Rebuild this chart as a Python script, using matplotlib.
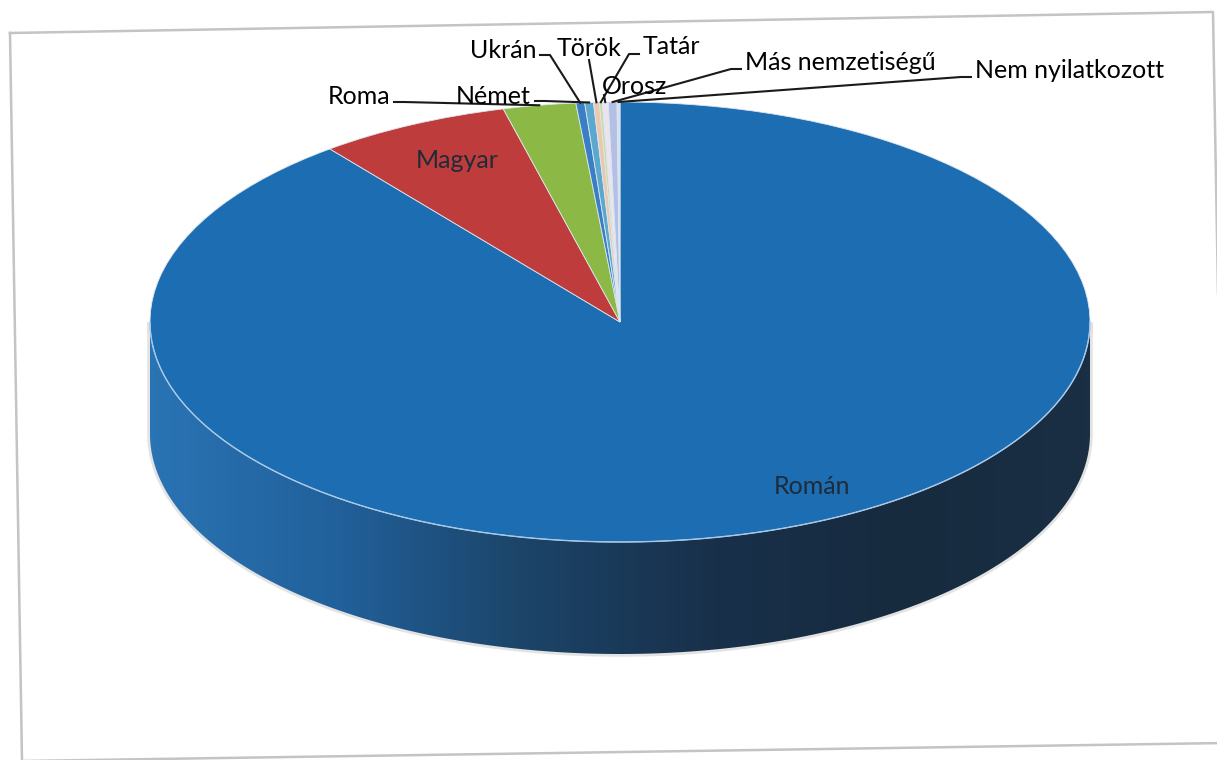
import numpy as np
import matplotlib
matplotlib.use('Agg')
import matplotlib.pyplot as plt
from matplotlib.transforms import Affine2D
from matplotlib.patches import Polygon
from matplotlib.colors import LinearSegmentedColormap

labels = ['Román', 'Magyar', 'Roma', 'Ukrán', 'Német', 'Török', 'Tatár',
          'Orosz', 'Más nemzetiségű', 'Nem nyilatkozott']
values = [89.5, 6.6, 2.5, 0.3, 0.3, 0.2, 0.1, 0.2, 0.3, 0.1]
colors = ['#1d6db2', '#bf3c3c', '#8cb946', '#3a7fc4', '#5aa8d0', '#ecc9ae',
          '#c9dba2', '#e9e4ef', '#b3bfe4', '#d5dff0']

W, H = 1217, 760

def P(x, y):
    # pixel (y down) -> data (y up)
    return x, H - y

# outer label layout: text x, text y (pixels), alignment
outer = {
    'Roma': (390, 97, 'right'),
    'Német': (531, 96, 'right'),
    'Ukrán': (536, 50, 'right'),
    'Török': (589, 48, 'center'),
    'Tatár': (643, 47, 'left'),
    'Orosz': (602, 87, 'left'),
    'Más nemzetiségű': (745, 62, 'left'),
    'Nem nyilatkozott': (975, 70, 'left'),
}
inner = {'Magyar': (457, 160), 'Román': (812, 487)}

plt.rcParams['font.family'] = ['Lato', 'DejaVu Sans']

fig = plt.figure(figsize=(W / 100, H / 100), dpi=100)
ax = fig.add_axes([0, 0, 1, 1])

cx, cy = P(620, 322)
rx, ry, depth = 470, 220, 112

# side of the cylinder
t = np.linspace(np.pi, 2 * np.pi, 300)
top = np.column_stack([cx + rx * np.cos(t), cy + ry * np.sin(t)])
bot = top - [0, depth]
side = np.vstack([top, bot[::-1]])

shadow = Polygon(side, closed=True, facecolor='none', edgecolor='#c8c8c8',
                 lw=4, alpha=0.5, zorder=0.5)
ax.add_patch(shadow)
clip = Polygon(side, closed=True, facecolor='none', edgecolor='none')
ax.add_patch(clip)
side_cmap = LinearSegmentedColormap.from_list(
    'side', ['#2a74b4', '#21609a', '#1c4468', '#18304a', '#172b3f', '#1a2f44'])
grad = np.linspace(0, 1, 256).reshape(1, -1)
im = ax.imshow(grad, cmap=side_cmap, extent=(cx - rx, cx + rx, cy - ry - depth, cy),
               aspect='auto', zorder=1)
im.set_clip_path(clip)

# top face
wedges, _ = ax.pie(values, colors=colors, startangle=90, counterclock=False,
                   radius=rx, center=(0, 0),
                   wedgeprops=dict(edgecolor='#dde6ee', linewidth=0.6))
tr = Affine2D().scale(1, ry / rx).translate(cx, cy) + ax.transData
for w in wedges:
    w.set_transform(tr)
    w.set_zorder(2)

ax.plot(top[:, 0], top[:, 1], color='#a6c8e8', lw=1.0, zorder=3)

# labels
total = sum(values)
cum = np.cumsum(values)
for i, lab in enumerate(labels):
    mid = np.deg2rad(90 - 360 * (cum[i] - values[i] / 2) / total)
    rim = (cx + rx * np.cos(mid), cy + ry * np.sin(mid))
    if lab in inner:
        x, y = P(*inner[lab])
        ax.text(x, y, lab, ha='center', va='center', fontsize=18,
                color='#1f2b38', zorder=5)
        continue
    tx, ty, ha = outer[lab]
    x, y = P(tx, ty)
    ax.text(x, y, lab, ha=ha, va='center', fontsize=18, color='#000000', zorder=5)
    if ha == 'right':
        pts = [P(tx + 4, ty + 5), P(tx + 14, ty + 5), rim]
    elif ha == 'left' and lab != 'Orosz':
        pts = [P(tx - 4, ty + 7), P(tx - 14, ty + 7), rim]
    elif lab == 'Orosz':
        pts = [P(tx + 2, ty + 8), rim]
    else:
        pts = [P(tx, ty + 12), rim]
    pts = np.array(pts)
    ax.plot(pts[:, 0], pts[:, 1], color='#1a1a1a', lw=1.5, zorder=4)

# chart frame (scanned, slightly rotated)
frame = np.array([P(10, 33), P(1213, 12), P(1226, 743), P(22, 761), P(10, 33)])
ax.plot(frame[:, 0], frame[:, 1], color='#c4c4c4', lw=1.8, zorder=0)

ax.set_xlim(0, W)
ax.set_ylim(0, H)
ax.set_aspect('auto')
ax.axis('off')

fig.savefig('out.png', dpi=100, facecolor='white')
